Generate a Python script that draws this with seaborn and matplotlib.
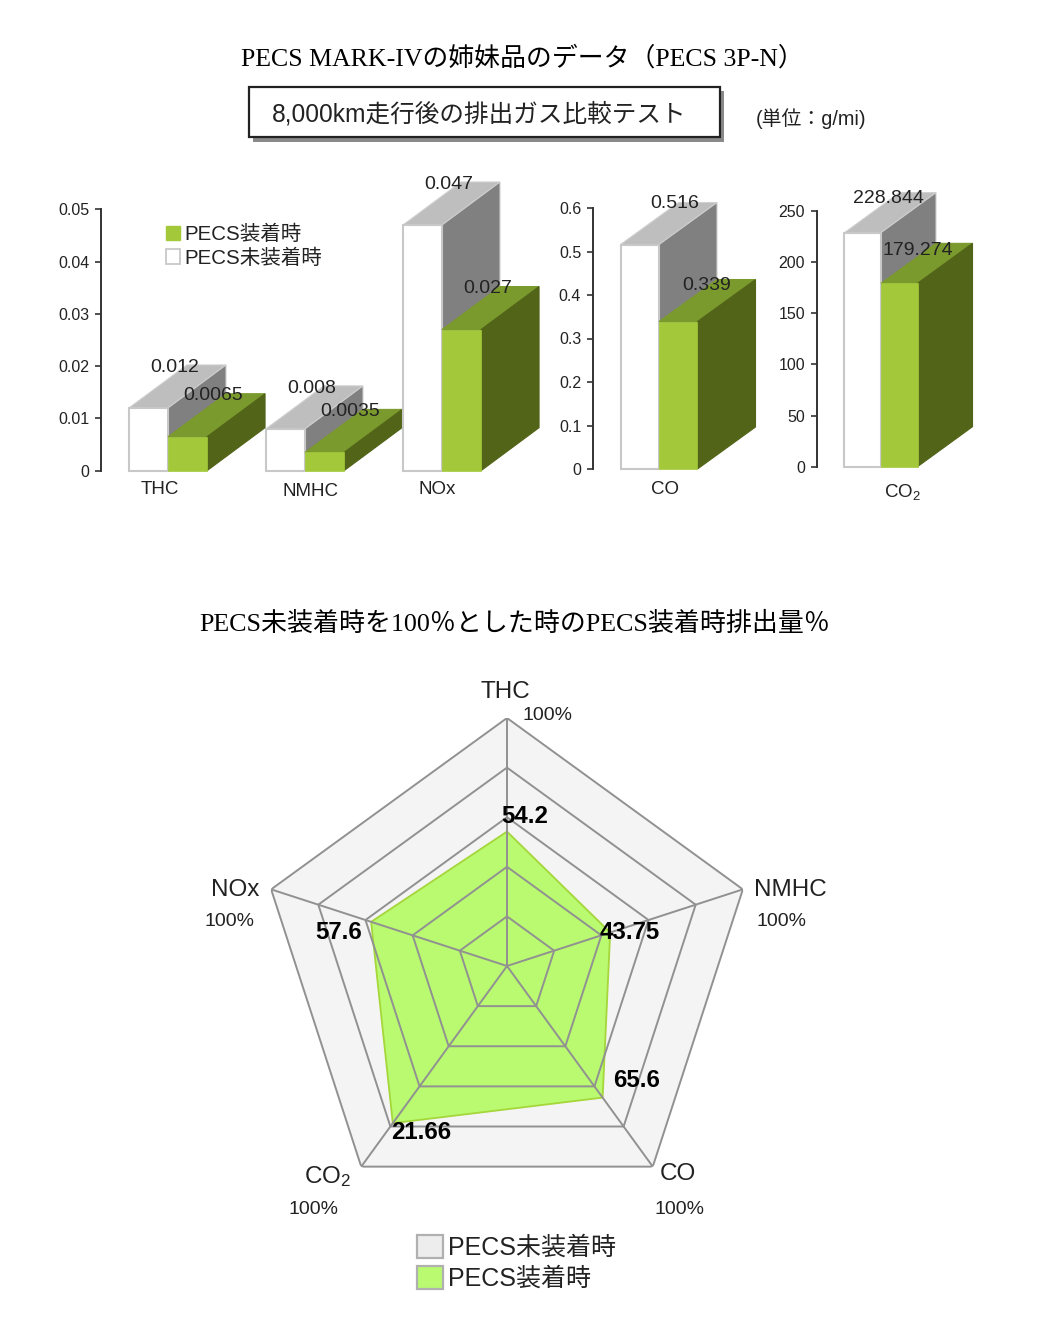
import numpy as np
import pandas as pd
import matplotlib
matplotlib.use("Agg")
import matplotlib.pyplot as plt
from matplotlib.patches import Patch, Polygon, Rectangle
import seaborn as sns

# ---------- data ----------
series_names = ["PECS未装着時", "PECS装着時"]
group1_items = ["THC", "NMHC", "NOx"]
group1_without = [0.012, 0.008, 0.047]
group1_with = [0.0065, 0.0035, 0.027]
group2_items = ["CO"]
group2_without = [0.516]
group2_with = [0.339]
group3_items = ["CO2"]
group3_without = [228.844]
group3_with = [179.274]
group1_ticks = [0, 0.01, 0.02, 0.03, 0.04, 0.05]
group2_ticks = [0, 0.1, 0.2, 0.3, 0.4, 0.5, 0.6]
group3_ticks = [0, 50, 100, 150, 200, 250]
radar_items = ["THC", "NMHC", "CO", "CO2", "NOx"]
radar_without = [100, 100, 100, 100, 100]
radar_with = [54.2, 43.75, 65.6, 78.34, 57.6]
radar_value_labels = ["54.2", "43.75", "65.6", "21.66", "57.6"]
radar_rings = [100, 80, 60, 40, 20]

# ---------- style ----------
sns.set_style("white")
SANS = ["Liberation Sans", "Noto Sans CJK JP"]
SERIF = ["Liberation Serif", "Noto Sans CJK JP"]
plt.rcParams["font.family"] = SANS
plt.rcParams["mathtext.fontset"] = "custom"
plt.rcParams["mathtext.rm"] = "Liberation Sans"
plt.rcParams["mathtext.default"] = "rm"
W, H = 1054, 1340
INK = "#222222"
fig = plt.figure(figsize=(W / 100, H / 100), dpi=100, facecolor="white")

ov = fig.add_axes([0, 0, 1, 1], zorder=50)
ov.set_xlim(0, W)
ov.set_ylim(H, 0)
ov.axis("off")


def T(x, y, s, size, family=SANS, ha="center", **kw):
    kw.setdefault("color", INK)
    ov.text(x, y + 1.5, s, fontsize=size, family=family, ha=ha, va="center", **kw)


def bar_panel(items, without, with_, ticks, left, right, top, bottom, center,
              width, depth, ymax, off_without, off_with):
    unit = 137.0
    ax = fig.add_axes([left / W, 1 - bottom / H, (right - left) / W, (bottom - top) / H])
    df = pd.DataFrame({
        "item": items * 2,
        "series": [series_names[0]] * len(items) + [series_names[1]] * len(items),
        "value": list(without) + list(with_),
    })
    sns.barplot(data=df, x="item", y="value", hue="series", order=items,
                hue_order=series_names, width=width, gap=0, saturation=1,
                palette=["#FFFFFF", "#A3C93A"], legend=False, ax=ax)
    ax.set_xlim((left - center) / unit, (right - center) / unit)
    ax.set_ylim(0, ymax)
    ax.patch.set_visible(False)
    ppy = (bottom - top) / ymax
    ddx, ddy = depth[0] / unit, depth[1] / ppy
    n = len(items)
    bars = [p for p in ax.patches]
    for idx, p in enumerate(bars):
        cat = idx % n
        is_green = idx >= n
        x0, x1, h = p.get_x(), p.get_x() + p.get_width(), p.get_height()
        base = 10 * cat + (5 if is_green else 0)
        c_top = "#7B9A2E" if is_green else "#BEBEBE"
        c_side = "#526418" if is_green else "#808080"
        ax.add_patch(Polygon([(x0, h), (x1, h), (x1 + ddx, h + ddy), (x0 + ddx, h + ddy)],
                             closed=True, fc=c_top, ec=c_top if is_green else "#CFCFCF",
                             lw=0.8, zorder=base + 1, clip_on=False))
        ax.add_patch(Polygon([(x1, 0), (x1, h), (x1 + ddx, h + ddy), (x1 + ddx, ddy)],
                             closed=True, fc=c_side, ec=c_side if is_green else "#CFCFCF",
                             lw=0.8, zorder=base + 2, clip_on=False))
        p.set_zorder(base + 3)
        p.set_clip_on(False)
        if is_green:
            p.set_edgecolor("#A3C93A")
            p.set_linewidth(0.5)
        else:
            p.set_edgecolor("#C8C8C8")
            p.set_linewidth(1.5)
        off = off_with if is_green else off_without
        val = (with_ if is_green else without)[cat]
        ax.annotate(str(val), xy=((x0 + x1) / 2, h),
                    xytext=(off[0] * 0.72, off[1] * 0.72), textcoords="offset points",
                    ha="center", va="center", fontsize=14, color=INK,
                    zorder=200, annotation_clip=False)
    sns.despine(ax=ax, bottom=True)
    ax.spines["left"].set_linewidth(1.4)
    ax.spines["left"].set_color("#333333")
    ax.set_xlabel("")
    ax.set_ylabel("")
    ax.set_xticks([])
    ax.set_yticks(ticks)
    ax.set_yticklabels([str(t) for t in ticks])
    ax.tick_params(axis="y", left=True, length=4.5, width=1.2, color="#333333",
                   labelsize=11.5, labelcolor=INK, pad=4)
    return ax


bar_panel(group1_items, group1_without, group1_with, group1_ticks,
          101, 540, 209.3, 470.7, 168, 0.57, (58, 43), 0.05, (26, 40), (26, 41))
bar_panel(group2_items, group2_without, group2_with, group2_ticks,
          593, 760, 208, 469, 659, 0.562, (58, 42), 0.6, (35, 41), (28, 36))
bar_panel(group3_items, group3_without, group3_with, group3_ticks,
          817, 976, 211, 466.7, 881, 0.533, (55, 40), 250, (26, 34), (19, 33))

# category names under the bars
T(160, 488, "THC", 13.5)
T(310, 490, "NMHC", 13.5)
T(437, 488, "NOx", 13.5)
T(665, 488, "CO", 13.5)
T(902, 490, "CO$_2$", 13.5)

# bar legend
fig.legend(handles=[Patch(fc="#A3C93A", ec="#A3C93A", label=series_names[1]),
                    Patch(fc="white", ec="#C8C8C8", lw=1.3, label=series_names[0])],
           loc="upper left", bbox_to_anchor=(166 / W, 1 - 225 / H), frameon=False,
           fontsize=14.8, handlelength=0.7, handleheight=0.7, handletextpad=0.2,
           labelspacing=0.2, borderpad=0, borderaxespad=0, labelcolor=INK)

# titles and header box
T(522, 57, "PECS MARK-IVの姉妹品のデータ（PECS 3P-N）", 18.6, family=SERIF, color="black")
T(514.5, 622.5, "PECS未装着時を100％とした時のPECS装着時排出量％", 18.7, family=SERIF, color="black")
ov.add_patch(Rectangle((253, 91), 471, 51, fc="#8A8A8A", ec="none", zorder=1))
ov.add_patch(Rectangle((249, 87), 471, 50, fc="white", ec="#222222", lw=1.6, zorder=2))
T(479.5, 113, "8,000km走行後の排出ガス比較テスト", 17.7, zorder=3)
T(811, 117.5, "(単位：g/mi)", 14.3)

# ---------- radar ----------
cx, cy, R = 507, 966, 248
rad = fig.add_axes([(cx - R) / W, 1 - (cy + R) / H, 2 * R / W, 2 * R / H], polar=True)
rad.set_theta_zero_location("N")
rad.set_theta_direction(-1)
rad.set_ylim(0, 100)
rad.axis("off")
theta = np.arange(len(radar_items)) * 2 * np.pi / len(radar_items)
closed_t = np.append(theta, theta[0])
GRID = "#919191"
rad.fill(closed_t, radar_without + radar_without[:1], fc="#F4F4F4", ec="none", zorder=1)
rad.fill(closed_t, radar_with + radar_with[:1], fc="#B9FA70", ec="#A5D63A", lw=1.3, zorder=2)
for r in radar_rings:
    rad.plot(closed_t, np.full(6, r), color=GRID, lw=1.4, zorder=3)
for t in theta:
    rad.plot([t, t], [0, 100], color=GRID, lw=1.4, zorder=3)

T(505, 691, "THC", 17.5)
T(790, 889, "NMHC", 17.5)
T(235, 889, "NOx", 17.5)
T(678, 1173, "CO", 17.5)
T(328, 1175, "CO$_2$", 17.5)
for x, y in [(547, 714), (781, 920), (230, 920), (680, 1208), (314, 1208)]:
    T(x, y, "100%", 14)
for (x, y), s in zip([(525, 815), (630, 931), (637, 1079), (421, 1131), (339, 931)],
                     radar_value_labels):
    T(x, y, s, 17.3, fontweight="bold", color="black")

fig.legend(handles=[Patch(fc="#EDEDED", ec="#B0B0B0", lw=1.6, label=series_names[0]),
                    Patch(fc="#B9FA70", ec="#B0B0B0", lw=1.6, label=series_names[1])],
           loc="upper left", bbox_to_anchor=(417 / W, 1 - 1235 / H), frameon=False,
           fontsize=18, handlelength=1.05, handleheight=1.05, handletextpad=0.2,
           labelspacing=0.22, borderpad=0, borderaxespad=0, labelcolor=INK)

fig.savefig("out.png", dpi=100, facecolor="white")
